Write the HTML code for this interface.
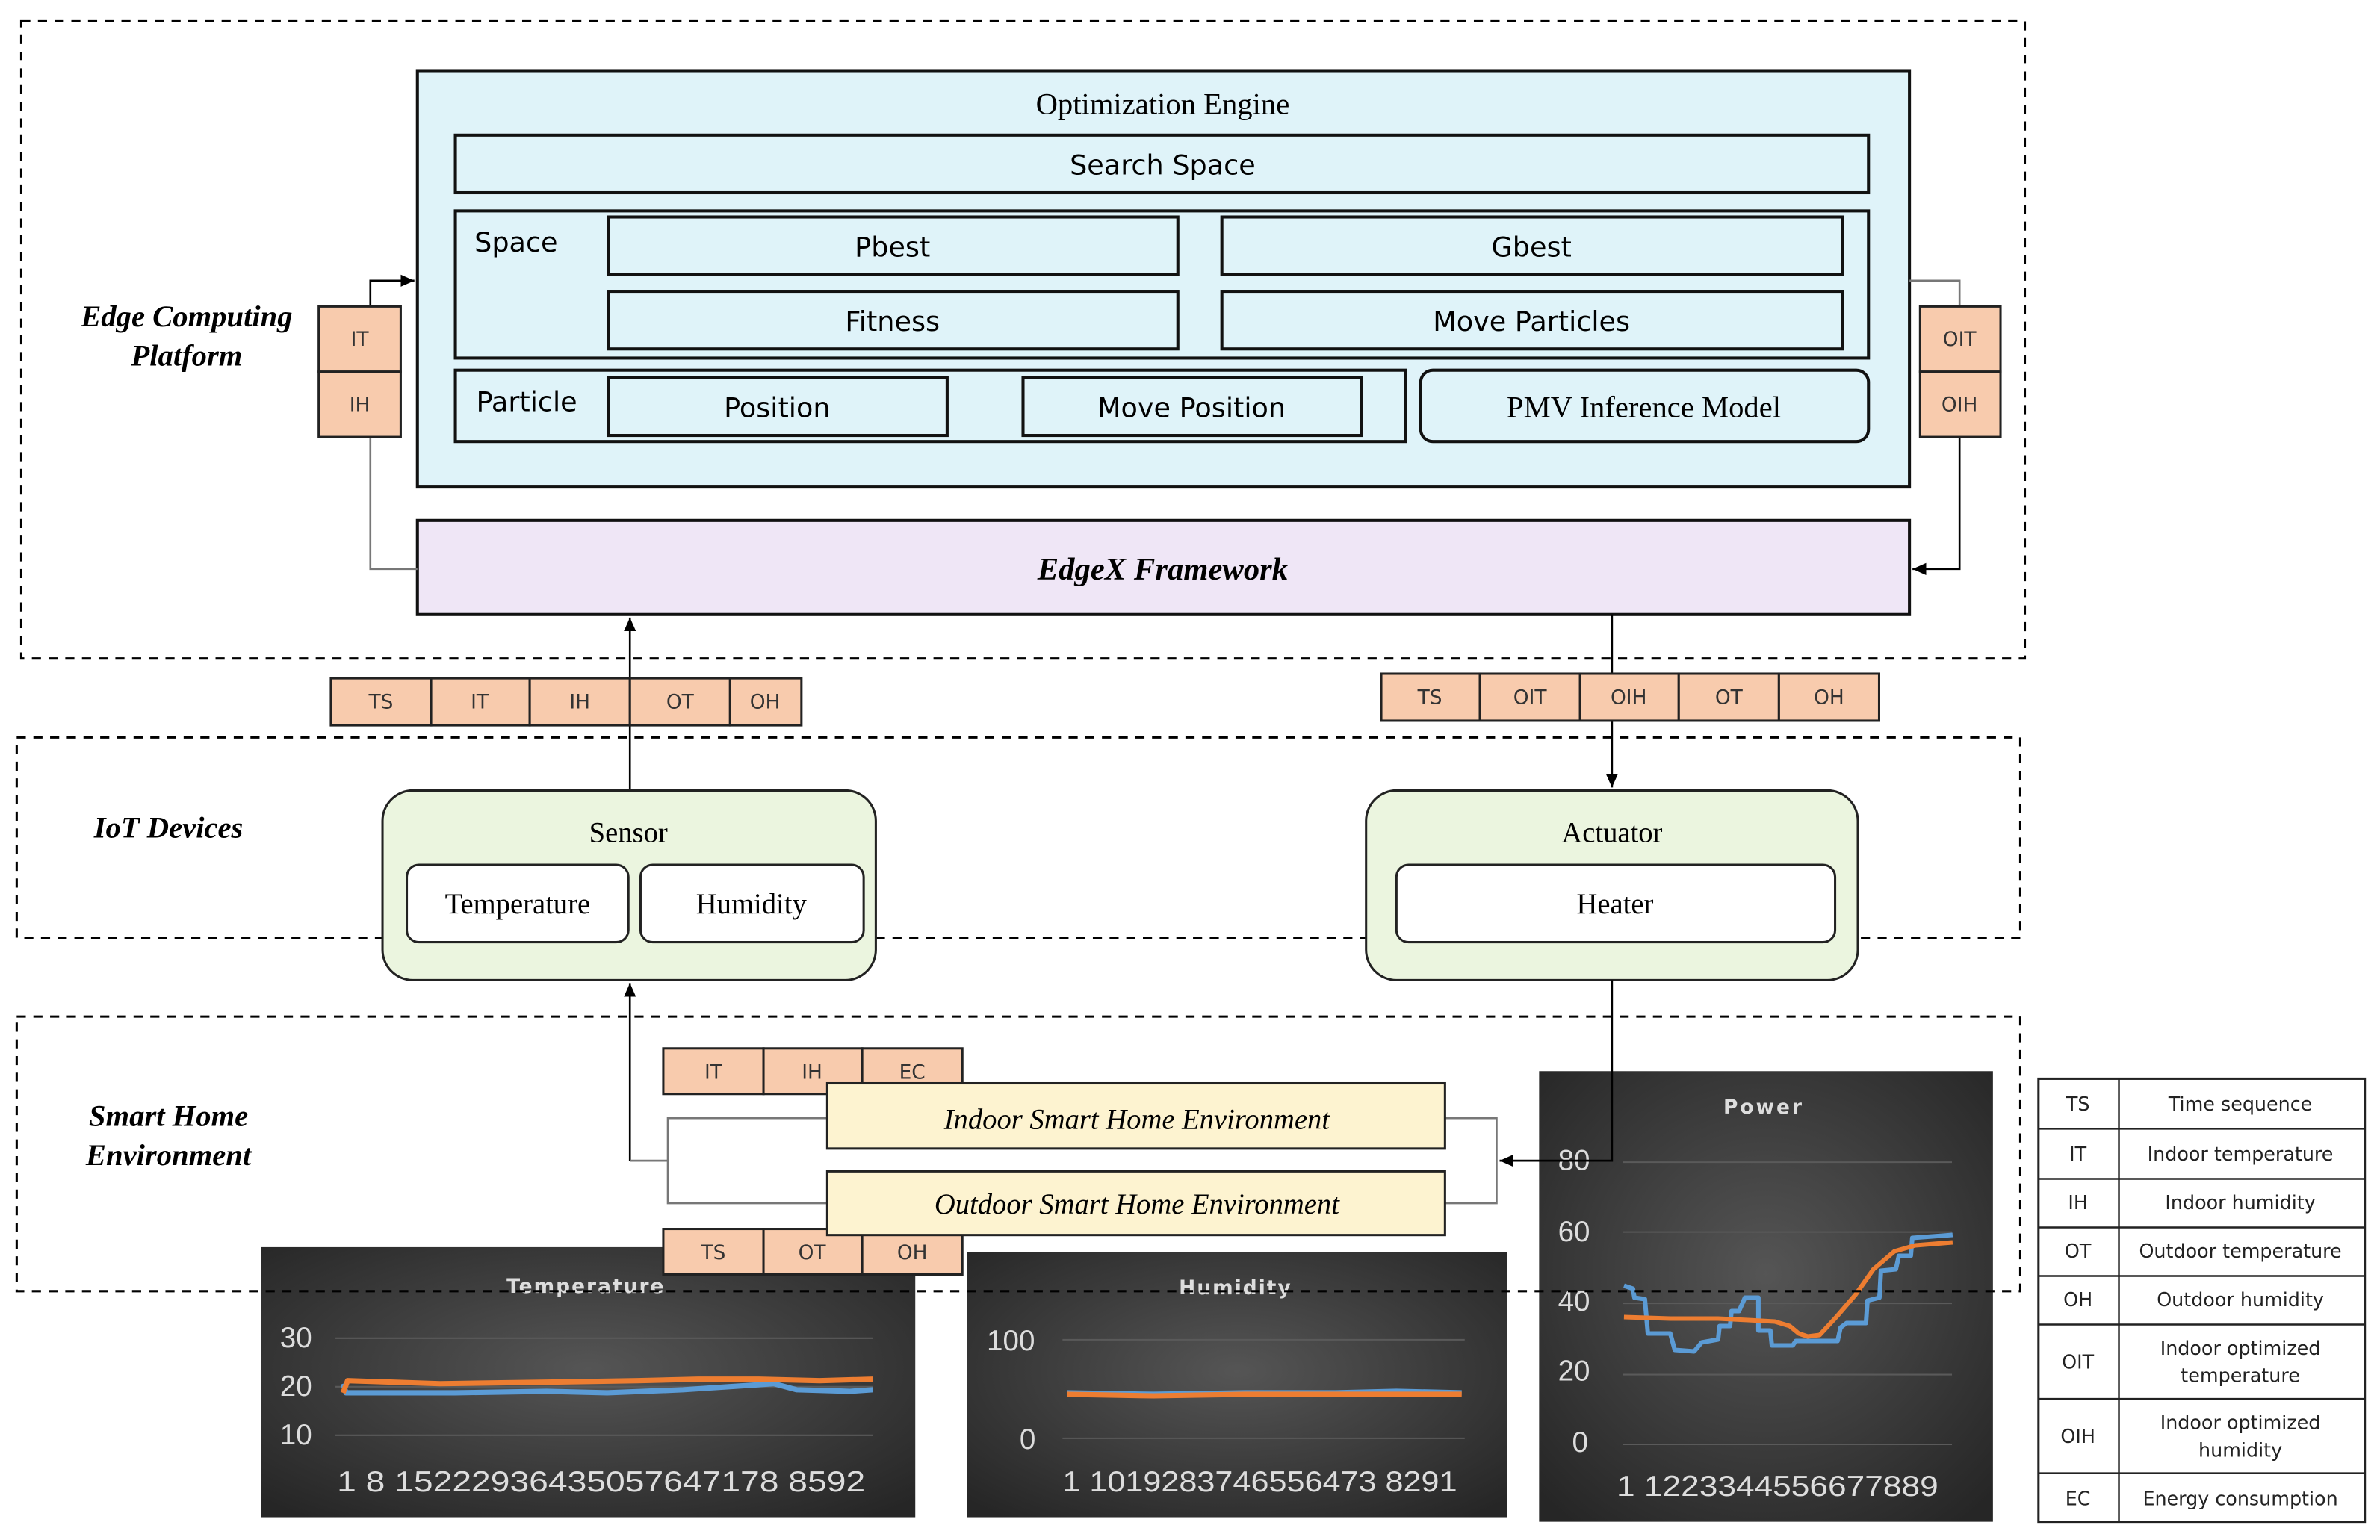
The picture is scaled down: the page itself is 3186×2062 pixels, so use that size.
<!DOCTYPE html>
<html><head><meta charset="utf-8"><style>
html,body{margin:0;padding:0;background:#fff;}
svg{display:block}
.s{font-family:"Liberation Serif",serif;}
.a{font-family:"DejaVu Sans","Liberation Sans",sans-serif;}
</style></head><body>
<svg width="3186" height="2062" viewBox="0 0 1568 1015" preserveAspectRatio="none" xmlns="http://www.w3.org/2000/svg">
<defs>
<radialGradient id="g" cx="50%" cy="45%" r="70%"><stop offset="0" stop-color="#555"/><stop offset="1" stop-color="#262626"/></radialGradient>
<marker id="ar" markerWidth="10" markerHeight="10" refX="9" refY="5" orient="auto" markerUnits="userSpaceOnUse"><path d="M0,1 L9,5 L0,9 z" fill="#000"/></marker>
</defs>
<g fill="none" stroke="#000" stroke-width="1.5" stroke-dasharray="6,5">
<rect x="14" y="14" width="1320" height="420"/>
<rect x="11" y="486" width="1320" height="132"/>
</g>
<!-- Optimization engine -->
<rect x="275" y="47" width="983" height="274" fill="#dff3f9" stroke="#111" stroke-width="2"/>
<text x="766" y="75" class="s" font-size="20" text-anchor="middle">Optimization Engine</text>
<g fill="#dff3f9" stroke="#111" stroke-width="2">
<rect x="300" y="89" width="931" height="38"/>
<rect x="300" y="139" width="931" height="97"/>
<rect x="401" y="143" width="375" height="38"/>
<rect x="805" y="143" width="409" height="38"/>
<rect x="401" y="192" width="375" height="38"/>
<rect x="805" y="192" width="409" height="38"/>
<rect x="300" y="244" width="626" height="47"/>
<rect x="401" y="249" width="223" height="38"/>
<rect x="674" y="249" width="223" height="38"/>
<rect x="936" y="244" width="295" height="47" rx="8"/>
</g>
<g class="a" font-size="18" text-anchor="middle">
<text x="766" y="115">Search Space</text>
<text x="340" y="166">Space</text>
<text x="588" y="169">Pbest</text>
<text x="1009" y="169">Gbest</text>
<text x="588" y="218">Fitness</text>
<text x="1009" y="218">Move Particles</text>
<text x="347" y="271">Particle</text>
<text x="512" y="275">Position</text>
<text x="785" y="275">Move Position</text>
</g>
<text x="1083" y="275" class="s" font-size="20" text-anchor="middle">PMV Inference Model</text>
<rect x="275" y="343" width="983" height="62" fill="#efe6f6" stroke="#111" stroke-width="2"/>
<text x="766" y="382" class="s" font-size="21" font-weight="bold" font-style="italic" text-anchor="middle">EdgeX Framework</text>
<g class="s" font-size="20" font-weight="bold" font-style="italic" text-anchor="middle">
<text x="123" y="215">Edge Computing</text><text x="123" y="241">Platform</text>
<text x="111" y="552">IoT Devices</text>
<text x="111" y="742">Smart Home</text><text x="111" y="768">Environment</text>
</g>
<!-- connectors -->
<g fill="none" stroke="#777" stroke-width="1.3">
<polyline points="244,202 244,185 273,185" stroke="#000" marker-end="url(#ar)"/>
<polyline points="244,288 244,375 275,375"/>
<polyline points="1258,185 1291,185 1291,202"/>
<polyline points="1291,288 1291,375 1260,375" stroke="#000" marker-end="url(#ar)"/>
<line x1="415" y1="520" x2="415" y2="407" stroke="#000" marker-end="url(#ar)"/>
<line x1="1062" y1="405" x2="1062" y2="519" stroke="#000" marker-end="url(#ar)"/>
<line x1="415" y1="765" x2="415" y2="648" stroke="#000" marker-end="url(#ar)"/>
<polyline points="415,765 440,765"/>
<polyline points="545,737 440,737 440,793 545,793"/>
<polyline points="952,737 986,737 986,793 952,793"/>
</g>
<!-- IoT -->
<g stroke="#222" stroke-width="1.5">
<rect x="252" y="521" width="325" height="125" rx="20" fill="#ebf5df"/>
<rect x="900" y="521" width="324" height="125" rx="20" fill="#ebf5df"/>
<rect x="268" y="570" width="146" height="51" rx="8" fill="#fff"/>
<rect x="422" y="570" width="147" height="51" rx="8" fill="#fff"/>
<rect x="920" y="570" width="289" height="51" rx="8" fill="#fff"/>
</g>
<g class="s" font-size="19" text-anchor="middle">
<text x="414" y="555">Sensor</text><text x="1062" y="555">Actuator</text>
<text x="341" y="602">Temperature</text><text x="495" y="602">Humidity</text><text x="1064" y="602">Heater</text>
</g>
<!-- charts -->
<rect x="172" y="822" width="431" height="178" fill="url(#g)"/>
<rect x="637" y="825" width="356" height="175" fill="url(#g)"/>
<rect x="1014" y="706" width="299" height="297" fill="url(#g)"/>
<g stroke="#5a5a5a" stroke-width="1">
<line x1="221" y1="882" x2="575" y2="882"/><line x1="221" y1="914" x2="575" y2="914"/><line x1="221" y1="946" x2="575" y2="946"/>
<line x1="700" y1="883" x2="965" y2="883"/><line x1="700" y1="948" x2="965" y2="948"/>
<line x1="1069" y1="766" x2="1286" y2="766"/><line x1="1069" y1="812" x2="1286" y2="812"/><line x1="1069" y1="859" x2="1286" y2="859"/><line x1="1069" y1="906" x2="1286" y2="906"/><line x1="1069" y1="952" x2="1286" y2="952"/>
</g>
<g class="a" fill="#ddd">
<text x="386" y="852" font-size="13" font-weight="bold" letter-spacing="1" text-anchor="middle">Temperature</text>
<text x="814" y="853" font-size="13" font-weight="bold" letter-spacing="1" text-anchor="middle">Humidity</text>
<text x="1162" y="734" font-size="13" font-weight="bold" letter-spacing="1.5" text-anchor="middle">Power</text>
<g font-size="19" font-family="Liberation Sans" text-anchor="middle">
<text x="195" y="888">30</text><text x="195" y="920">20</text><text x="195" y="952">10</text>
<text x="666" y="890">100</text><text x="677" y="955">0</text>
<text x="1037" y="771">80</text><text x="1037" y="818">60</text><text x="1037" y="864">40</text><text x="1037" y="910">20</text><text x="1041" y="957">0</text>
</g>
<g font-size="19" font-family="Liberation Sans">
<text x="222" y="983" textLength="348" lengthAdjust="spacingAndGlyphs">1  8 15222936435057647178 8592</text>
<text x="700" y="983" textLength="260" lengthAdjust="spacingAndGlyphs">1 1019283746556473 8291</text>
<text x="1065" y="986" textLength="212" lengthAdjust="spacingAndGlyphs">1 1223344556677889</text>
</g>
</g>
<g fill="none" stroke-width="3.5" stroke-linejoin="round">
<polyline stroke="#5b9bd5" points="226,912 228,918 300,918 360,917 400,918 450,916 480,914 510,912 525,916 560,917 575,916"/>
<polyline stroke="#ed7d31" points="226,918 229,910 290,912 360,911 420,910 460,909 500,909 540,910 575,909"/>
<polyline stroke="#5b9bd5" points="703,918 760,919 820,918 880,918 920,917 963,918"/>
<polyline stroke="#ed7d31" points="703,919 760,920 820,919 880,919 920,919 963,919"/>
</g>
<g transform="translate(1013.8,703.7) scale(0.19685)" fill="none" stroke-width="15" stroke-linejoin="round">
<polyline stroke="#5b9bd5" points="285,730 315,740 320,770 355,775 365,890 440,890 455,945 520,950 545,920 600,910 605,865 640,865 645,815 670,815 690,770 735,770 735,880 775,880 780,930 850,930 860,915 1000,915 1010,870 1030,855 1095,855 1100,780 1140,770 1145,680 1195,675 1205,630 1245,630 1250,570 1385,560"/>
<polyline stroke="#ed7d31" points="285,835 440,840 600,840 700,845 790,850 840,865 870,890 900,900 940,895 1000,830 1060,760 1120,675 1190,615 1260,595 1385,585"/>
</g>
<!-- tags -->
<g fill="#f8cbad" stroke="#222" stroke-width="1.5">
<rect x="210" y="202" width="54" height="43"/><rect x="210" y="245" width="54" height="43"/>
<rect x="1265" y="202" width="53" height="43"/><rect x="1265" y="245" width="53" height="43"/>
<rect x="218" y="447" width="66" height="31"/><rect x="284" y="447" width="65" height="31"/><rect x="349" y="447" width="66" height="31"/><rect x="415" y="447" width="66" height="31"/><rect x="481" y="447" width="47" height="31"/>
<rect x="910" y="444" width="65" height="31"/><rect x="975" y="444" width="66" height="31"/><rect x="1041" y="444" width="65" height="31"/><rect x="1106" y="444" width="66" height="31"/><rect x="1172" y="444" width="66" height="31"/>
<rect x="437" y="691" width="66" height="30"/><rect x="503" y="691" width="65" height="30"/><rect x="568" y="691" width="66" height="30"/>
<rect x="437" y="810" width="66" height="30"/><rect x="503" y="810" width="65" height="30"/><rect x="568" y="810" width="66" height="30"/>
</g>
<g class="a" font-size="13" fill="#333" text-anchor="middle">
<text x="237" y="228">IT</text><text x="237" y="271">IH</text>
<text x="1291" y="228">OIT</text><text x="1291" y="271">OIH</text>
<text x="251" y="467">TS</text><text x="316" y="467">IT</text><text x="382" y="467">IH</text><text x="448" y="467">OT</text><text x="504" y="467">OH</text>
<text x="942" y="464">TS</text><text x="1008" y="464">OIT</text><text x="1073" y="464">OIH</text><text x="1139" y="464">OT</text><text x="1205" y="464">OH</text>
<text x="470" y="711">IT</text><text x="535" y="711">IH</text><text x="601" y="711">EC</text>
<text x="470" y="830">TS</text><text x="535" y="830">OT</text><text x="601" y="830">OH</text>
</g>
<g fill="#fdf3d0" stroke="#222" stroke-width="1.5">
<rect x="545" y="714" width="407" height="43"/><rect x="545" y="772" width="407" height="42"/>
</g>
<g class="s" font-size="19" font-style="italic" text-anchor="middle">
<text x="749" y="744">Indoor Smart Home Environment</text>
<text x="749" y="800">Outdoor Smart Home  Environment</text>
</g>
<rect x="11" y="670" width="1320" height="181" fill="none" stroke="#000" stroke-width="1.5" stroke-dasharray="6,5"/>
<polyline points="1062,646 1062,765 988,765" fill="none" stroke="#000" stroke-width="1.3" marker-end="url(#ar)"/>
<!-- legend -->
<rect x="1343" y="711" width="215" height="292" fill="#fff" stroke="#222" stroke-width="1.5"/>
<g stroke="#222" stroke-width="1.2">
<line x1="1396" y1="711" x2="1396" y2="1003"/>
<line x1="1343" y1="744" x2="1558" y2="744"/><line x1="1343" y1="777" x2="1558" y2="777"/><line x1="1343" y1="809" x2="1558" y2="809"/><line x1="1343" y1="841" x2="1558" y2="841"/><line x1="1343" y1="873" x2="1558" y2="873"/><line x1="1343" y1="922" x2="1558" y2="922"/><line x1="1343" y1="971" x2="1558" y2="971"/>
</g>
<g class="a" font-size="12.5" fill="#222" text-anchor="middle">
<text x="1369" y="732">TS</text><text x="1476" y="732">Time sequence</text>
<text x="1369" y="765">IT</text><text x="1476" y="765">Indoor temperature</text>
<text x="1369" y="797">IH</text><text x="1476" y="797">Indoor humidity</text>
<text x="1369" y="829">OT</text><text x="1476" y="829">Outdoor temperature</text>
<text x="1369" y="861">OH</text><text x="1476" y="861">Outdoor humidity</text>
<text x="1369" y="902">OIT</text><text x="1476" y="893">Indoor optimized</text><text x="1476" y="911">temperature</text>
<text x="1369" y="951">OIH</text><text x="1476" y="942">Indoor optimized</text><text x="1476" y="960">humidity</text>
<text x="1369" y="992">EC</text><text x="1476" y="992">Energy consumption</text>
</g>
</svg>
</body></html>
